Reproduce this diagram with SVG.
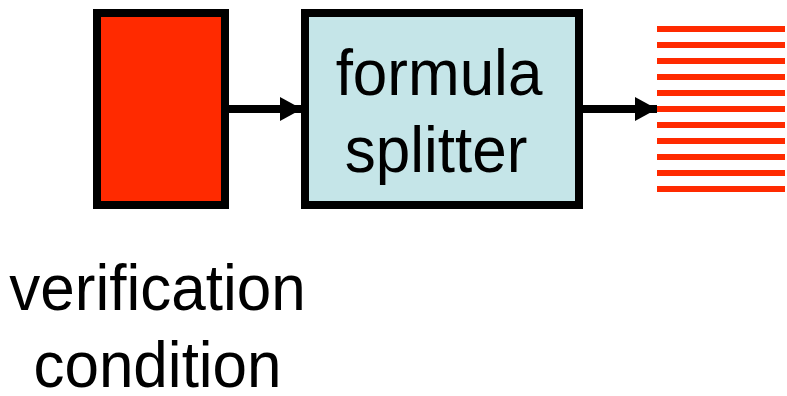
<svg xmlns="http://www.w3.org/2000/svg" width="787" height="396" viewBox="0 0 787 396">
<style>
.box{stroke:#000;stroke-width:8}
.lbl{font-family:"Liberation Sans",Arial,sans-serif;font-size:62px;fill:#000;text-anchor:middle}
.conn{stroke:#000;stroke-width:8;fill:none}
.stripe{fill:#FF2A00}
</style>
<defs>
<marker id="ah" markerUnits="userSpaceOnUse" markerWidth="22" markerHeight="24" refX="22" refY="12" orient="auto">
<polygon points="0,0 22,12 0,24" fill="#000"/>
</marker>
</defs>
<rect width="787" height="396" fill="#fff"/>
<g id="connectors">
<line class="conn" x1="229" y1="109" x2="302" y2="109" marker-end="url(#ah)"/>
<line class="conn" x1="582" y1="109" x2="657" y2="109" marker-end="url(#ah)"/>
</g>
<g id="verification-condition">
<rect class="box" x="97" y="13" width="128" height="192" fill="#FF2A00"/>
<text class="lbl" transform="translate(157.5,310) scale(1,1.04)">verification</text>
<text class="lbl" transform="translate(157.5,387) scale(1,1.04)">condition</text>
</g>
<g id="formula-splitter">
<rect class="box" x="305" y="13" width="274" height="192" fill="#C5E5E8"/>
<text class="lbl" transform="translate(439,95) scale(1,1.04)">formula</text>
<text class="lbl" transform="translate(436,172) scale(1,1.04)">splitter</text>
</g>
<g id="outputs">
<rect class="stripe" x="657" y="26" width="128" height="6"/>
<rect class="stripe" x="657" y="42" width="128" height="6"/>
<rect class="stripe" x="657" y="58" width="128" height="6"/>
<rect class="stripe" x="657" y="74" width="128" height="6"/>
<rect class="stripe" x="657" y="90" width="128" height="6"/>
<rect class="stripe" x="657" y="106" width="128" height="6"/>
<rect class="stripe" x="657" y="122" width="128" height="6"/>
<rect class="stripe" x="657" y="138" width="128" height="6"/>
<rect class="stripe" x="657" y="154" width="128" height="6"/>
<rect class="stripe" x="657" y="170" width="128" height="6"/>
<rect class="stripe" x="657" y="186" width="128" height="6"/>
</g>
</svg>
